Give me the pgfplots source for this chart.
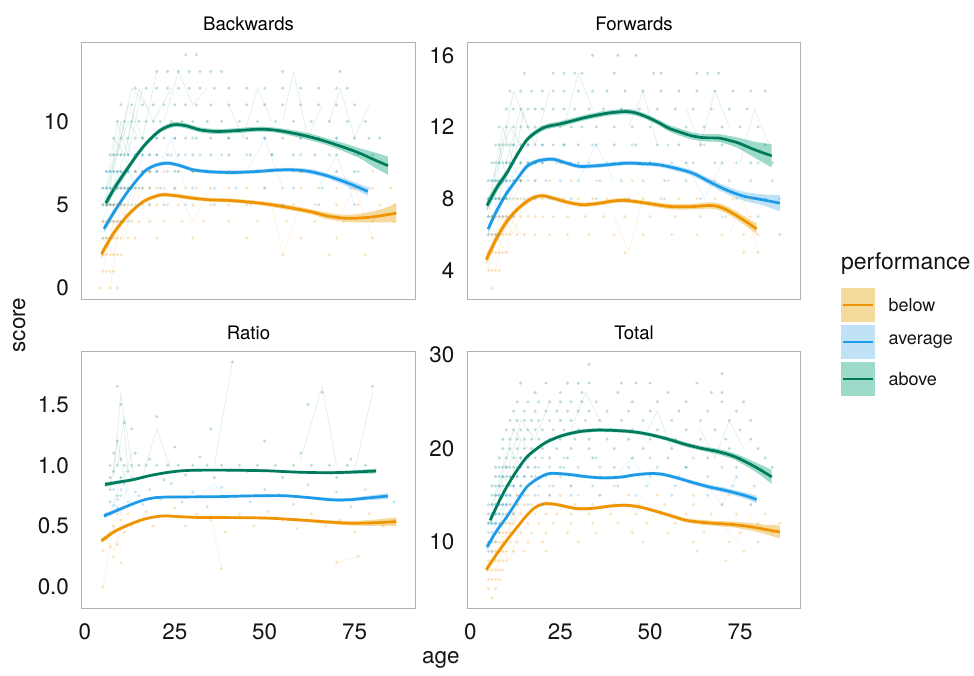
\documentclass[border=0pt]{standalone}
\usepackage{fontspec}
\setmainfont{TeX Gyre Heros}
\usepackage{pgfplots}
\pgfplotsset{compat=1.18}
\usepgfplotslibrary{fillbetween}
\usepackage{pgfplotstable}

\definecolor{orL}{HTML}{F09300}
\definecolor{orB}{HTML}{E69F00}
\definecolor{blL}{HTML}{1E9BE8}
\definecolor{blB}{HTML}{56B4E9}
\definecolor{grL}{HTML}{007A5C}
\definecolor{grB}{HTML}{009E73}

% ---------- Backwards ----------
\pgfplotstableread{
x y w
5.8 5.1 0.3
8.5 6.1 0.25
11.6 7.1 0.2
14.5 8.0 0.18
17.1 8.7 0.15
20.8 9.45 0.15
24.5 9.8 0.15
28 9.75 0.15
32 9.5 0.15
36.6 9.4 0.15
42 9.45 0.15
48.6 9.54 0.15
53 9.48 0.15
57.9 9.3 0.18
62.5 9.08 0.2
67.1 8.8 0.2
72 8.45 0.25
76.4 8.1 0.3
80.5 7.7 0.45
84.3 7.35 0.55
}\bwG
\pgfplotstableread{
x y w
5.3 3.56 0.25
8.5 4.7 0.2
11.6 5.7 0.15
14.5 6.5 0.12
17.1 7.1 0.12
20 7.4 0.12
23.1 7.5 0.12
26.5 7.35 0.12
30.1 7.1 0.12
35 6.98 0.12
41.2 6.94 0.12
48 7.0 0.12
53 7.08 0.12
57.9 7.1 0.12
62.5 7.0 0.15
67.1 6.76 0.15
72 6.4 0.2
75.5 6.1 0.22
78.7 5.8 0.25
}\bwB
\pgfplotstableread{
x y w
4.6 2.04 0.25
8 3.3 0.2
11.6 4.3 0.15
14.5 4.9 0.12
17.1 5.3 0.12
21.3 5.6 0.12
25 5.55 0.12
30 5.4 0.12
34.7 5.3 0.12
41 5.25 0.12
48.6 5.1 0.12
55 4.9 0.15
62.5 4.6 0.15
67 4.35 0.2
71.8 4.2 0.2
76 4.2 0.25
81 4.3 0.35
86.6 4.5 0.55
}\bwO

% ---------- Forwards ----------
\pgfplotstableread{
x y w
4.6 7.62 0.3
7.3 8.6 0.25
10.1 9.43 0.2
13 10.45 0.18
15.7 11.28 0.15
18.5 11.75 0.15
21.2 12.02 0.15
24.5 12.15 0.15
27.6 12.3 0.15
31 12.48 0.15
34.1 12.62 0.15
38.5 12.78 0.15
43.3 12.86 0.15
46 12.78 0.15
48.8 12.58 0.15
52 12.28 0.15
55.2 11.93 0.18
58.5 11.7 0.2
61.7 11.5 0.2
65 11.4 0.2
69.1 11.38 0.22
72 11.25 0.25
74.6 11.1 0.3
79.2 10.72 0.45
83.8 10.39 0.65
}\fwG
\pgfplotstableread{
x y w
4.9 6.3 0.25
7.5 7.4 0.2
10.1 8.31 0.18
13 9.1 0.15
15.7 9.8 0.15
19 10.12 0.12
23 10.2 0.12
26.5 10.0 0.12
30.4 9.8 0.12
36 9.85 0.12
43.3 9.98 0.12
48 9.95 0.12
52.5 9.89 0.12
57 9.7 0.15
61.7 9.43 0.15
65.5 9.05 0.18
69.1 8.68 0.2
72.5 8.38 0.22
76.4 8.12 0.25
81 7.95 0.3
86.1 7.75 0.45
}\fwB
\pgfplotstableread{
x y w
4.4 4.6 0.3
7.3 5.8 0.25
10.1 6.73 0.2
13 7.4 0.15
15.7 7.84 0.15
18 8.1 0.12
20.3 8.16 0.12
23.5 8.0 0.12
27 7.8 0.12
31.3 7.66 0.12
36 7.75 0.12
40 7.88 0.12
43.3 7.9 0.12
48 7.78 0.12
55.2 7.57 0.15
61 7.55 0.15
67.2 7.62 0.18
70.5 7.45 0.2
73.7 7.1 0.22
76.8 6.7 0.25
79.6 6.32 0.3
}\fwO

% ---------- Ratio ----------
\pgfplotstableread{
x y w
5.6 0.842 0.02
9 0.86 0.015
13.4 0.882 0.012
18 0.915 0.01
22.7 0.94 0.01
27 0.955 0.01
31.9 0.96 0.01
40 0.96 0.01
50.5 0.955 0.01
58 0.945 0.01
64.4 0.94 0.01
70 0.94 0.012
75 0.945 0.015
81 0.953 0.02
}\raG
\pgfplotstableread{
x y w
5.3 0.584 0.02
9 0.63 0.015
13.4 0.684 0.012
17 0.72 0.01
20.8 0.737 0.01
28 0.74 0.01
36.6 0.742 0.01
45 0.748 0.01
55.1 0.75 0.01
62 0.735 0.012
69 0.716 0.015
74 0.718 0.015
78.2 0.73 0.018
84.3 0.747 0.025
}\raB
\pgfplotstableread{
x y w
4.6 0.38 0.02
8.5 0.46 0.015
13.4 0.526 0.012
17.5 0.565 0.01
21.8 0.584 0.01
26 0.578 0.01
31.9 0.571 0.01
40 0.57 0.01
50.5 0.566 0.01
60 0.55 0.012
67 0.535 0.015
73.6 0.524 0.018
80 0.527 0.025
86.6 0.537 0.035
}\raO

% ---------- Total ----------
\pgfplotstableread{
x y w
5.5 12.33 0.4
7.8 14.2 0.3
10.1 15.9 0.25
13 17.7 0.22
15.7 19.1 0.2
18.5 20.0 0.2
21.2 20.7 0.2
24.5 21.25 0.2
27.6 21.6 0.2
31 21.85 0.2
35 21.97 0.2
39 21.95 0.2
43.3 21.86 0.2
47 21.7 0.2
50.6 21.43 0.2
55 21.0 0.22
59.9 20.43 0.25
64.5 20.0 0.25
69.1 19.65 0.3
73.7 19.1 0.35
79.2 18.04 0.5
83.8 16.97 0.75
}\toG
\pgfplotstableread{
x y w
4.6 9.46 0.35
7.3 11.2 0.28
10.1 12.68 0.22
13 14.4 0.2
15.7 15.9 0.18
18.8 16.8 0.18
22.1 17.33 0.18
27.6 17.22 0.18
32 17.0 0.18
36.8 16.86 0.18
42 16.95 0.18
46 17.2 0.18
50.6 17.33 0.18
54 17.2 0.2
58 16.8 0.2
62 16.35 0.22
66.3 15.9 0.25
70 15.6 0.28
73.7 15.25 0.3
77 14.9 0.35
79.6 14.54 0.4
}\toB
\pgfplotstableread{
x y w
4.4 7.04 0.35
7.3 8.7 0.28
10.1 10.18 0.22
13 11.6 0.2
15.7 12.86 0.18
18 13.7 0.18
20.7 14.1 0.18
24 14.0 0.18
29.5 13.58 0.18
34 13.6 0.18
39 13.85 0.18
43.3 13.93 0.18
47 13.75 0.18
50.6 13.4 0.18
55 12.9 0.2
59.9 12.33 0.22
64.5 12.1 0.25
69.1 11.97 0.28
73.5 11.85 0.32
78.3 11.61 0.4
82 11.35 0.5
86.1 11.07 0.7
}\toO

\newcommand{\smoothseries}[4]{%
  \addplot[name path=u#1, draw=none, smooth, forget plot] table[x=x, y expr=\thisrow{y}+\thisrow{w}] {#2};
  \addplot[name path=l#1, draw=none, smooth, forget plot] table[x=x, y expr=\thisrow{y}-\thisrow{w}] {#2};
  \addplot[fill=#4, fill opacity=0.38, draw=none, forget plot] fill between[of=u#1 and l#1];
  \addplot[draw=#3, line width=1.35pt, smooth, forget plot] table[x=x, y=y] {#2};
}
\newcommand{\pts}[2]{\addplot[color=#1, only marks, mark=*, mark size=0.85pt, mark options={draw opacity=0, fill=#1, fill opacity=0.26}, forget plot] coordinates {#2};}
\newcommand{\trace}[2]{\addplot[color=#1, draw opacity=0.1, line width=0.45pt, mark=none, forget plot] coordinates {#2};}

\pgfplotsset{
  facet/.style={
    scale only axis, width=166.8pt, height=128.2pt,
    xmin=-0.9, xmax=91.9, anchor=north west,
    axis line style={draw=black!30, line width=0.5pt},
    tick style={draw=none}, major tick length=0pt, minor tick length=0pt,
    xtick={0,25,50,75},
    ticklabel style={font=\fontsize{11.2}{13}\selectfont, text=black!92},
    yticklabel style={inner sep=0pt, xshift=-6.2pt},
    xticklabel style={inner sep=0pt, yshift=-7.6pt},
    /pgf/number format/assume math mode=true,
    every axis title shift=0pt,
    title style={font=\fontsize{9.3}{11}\selectfont, at={(0.5,1)}, anchor=base, yshift=6.2pt, inner sep=0pt},
  },
}

\begin{document}
\begin{tikzpicture}

% ================= Backwards =================
\begin{axis}[facet, at={(40.85pt,-21.35pt)}, title={Backwards},
  ymin=-0.66, ymax=14.73, ytick={0,5,10}, xticklabels={}]
  % individual traces
  \trace{grL}{(6,6)(9,8)(12,10)(15,9)}
  \trace{grL}{(7,7)(10,9)(13,12)(17,11)}
  \trace{grL}{(9,8)(12,11)(16,9)(20,13)}
  \trace{grL}{(12,9)(15,12)(19,10)(24,12)}
  \trace{grL}{(5,5)(8,7)(10,10)(13,8)}
  \trace{grL}{(6,6)(8,9)(11,8)(14,11)}
  \trace{grL}{(7,6)(9,10)(12,8)(16,12)}
  \trace{grL}{(22,10)(26,13)(30,11)(34,12)}
  \trace{grL}{(40,11)(44,9)(48,12)(52,10)}
  \trace{grL}{(55,10)(58,13)(62,9)(66,11)}
  \trace{grL}{(68,10)(71,12)(75,9)(79,11)}
  \trace{blL}{(5,4)(8,6)(11,8)(14,6)}
  \trace{blL}{(6,5)(9,7)(12,5)(16,8)}
  \trace{blL}{(7,4)(9,6)(12,7)(15,6)}
  \trace{blL}{(20,7)(24,9)(28,6)}
  \trace{blL}{(45,7)(50,9)(55,6)}
  \trace{blL}{(65,6)(70,8)(75,5)}
  \trace{orL}{(5,1)(8,4)(11,3)(14,6)}
  \trace{orL}{(6,2)(9,5)(12,4)(16,6)}
  \trace{orL}{(7,0)(9,3)(12,5)}
  \trace{orL}{(5,3)(8,2)(10,5)(13,4)}
  \trace{orL}{(25,6)(30,4)(35,6)}
  \trace{orL}{(52,5)(55,2)(60,5)}
  \trace{orL}{(70,4)(75,6)(80,3)}
  % points
  \pts{grL}{(28,14)(31,14)(20,13)(23,13)(26,13)(29,13)(32,13)(35,13)(38,13)(55,13)(71,13)
    (14,12)(17,12)(20,12)(23,12)(26,12)(29,12)(32,12)(36,12)(40,12)(45,12)(50,12)(55,12)(60,12)(65,12)(70,12)(73,12)
    (10,11)(13,11)(16,11)(19,11)(22,11)(25,11)(28,11)(31,11)(35,11)(40,11)(45,11)(50,11)(55,11)(60,11)(65,11)(70,11)(75,11)
    (9,10)(11,10)(13,10)(15,10)(17,10)(19,10)(21,10)(24,10)(27,10)(30,10)(34,10)(38,10)(43,10)(48,10)(53,10)(58,10)(63,10)(68,10)(73,10)(78,10)
    (8,9)(10,9)(12,9)(14,9)(16,9)(18,9)(20,9)(22,9)(25,9)(28,9)(31,9)(35,9)(40,9)(45,9)(50,9)(55,9)(60,9)(65,9)(70,9)(75,9)(79,9)(82,9)
    (7,8)(8,8)(9,8)(10,8)(11,8)(12,8)(14,8)(16,8)(18,8)(20,8)(23,8)(26,8)(30,8)(35,8)(40,8)(46,8)(52,8)(58,8)(64,8)(70,8)(76,8)(80,8)
    (6,7)(7,7)(8,7)(9,7)(10,7)(11,7)(12,7)(14,7)(16,7)(18,7)(20,7)(25,7)(30,7)(60,7)(75,7)
    (5,6)(6,6)(7,6)(8,6)(9,6)(10,6)(11,6)(12,6)(13,6)(15,6)(5,5)(6,5)(7,5)(8,5)}
  \pts{blL}{(16,9)(20,9)(25,9)(30,9)(40,9)(50,9)(60,9)(70,9)
    (8,8)(10,8)(12,8)(14,8)(16,8)(18,8)(20,8)(24,8)(28,8)(32,8)(38,8)(45,8)(52,8)(60,8)(68,8)(75,8)
    (6,7)(7,7)(8,7)(9,7)(10,7)(12,7)(14,7)(16,7)(18,7)(20,7)(23,7)(26,7)(30,7)(35,7)(40,7)(46,7)(52,7)(58,7)(64,7)(70,7)(76,7)
    (5,6)(6,6)(7,6)(8,6)(9,6)(10,6)(11,6)(12,6)(14,6)(16,6)(18,6)(21,6)(25,6)(30,6)(36,6)(42,6)(50,6)(58,6)(66,6)(74,6)(79,6)
    (5,5)(6,5)(7,5)(8,5)(9,5)(10,5)(11,5)(13,5)(15,5)(18,5)(22,5)(28,5)(36,5)(45,5)(55,5)(65,5)(75,5)
    (5,4)(6,4)(7,4)(8,4)(9,4)(10,4)(12,4)(5,3)(6,3)(7,3)}
  \pts{orL}{(14,7)(18,7)(22,7)(26,7)(30,7)(40,7)(50,7)(60,7)(70,7)(80,7)
    (8,6)(10,6)(12,6)(14,6)(16,6)(18,6)(20,6)(22,6)(25,6)(28,6)(31,6)(35,6)(40,6)(45,6)(50,6)(55,6)(60,6)(65,6)(70,6)(75,6)(80,6)(85,6)
    (6,5)(7,5)(8,5)(9,5)(10,5)(11,5)(12,5)(14,5)(16,5)(18,5)(20,5)(23,5)(26,5)(30,5)(35,5)(40,5)(46,5)(52,5)(58,5)(64,5)(70,5)(76,5)(82,5)(86,5)
    (5,4)(6,4)(7,4)(8,4)(9,4)(10,4)(11,4)(13,4)(15,4)(18,4)(22,4)(27,4)(33,4)(40,4)(48,4)(56,4)(64,4)(72,4)(80,4)(86,4)
    (5,3)(6,3)(7,3)(8,3)(9,3)(10,3)(12,3)(14,3)(20,3)(30,3)(45,3)(60,3)(70,3)(80,3)
    (5,2)(6,2)(7,2)(8,2)(9,2)(10,2)(55,2)(68,2)(78,2)(5,1)(6,1)(7,1)(8,1)(4,0)(7,0)(9,0)}
  % smooths
  \smoothseries{bo}{\bwO}{orL}{orB}
  \smoothseries{bb}{\bwB}{blL}{blB}
  \smoothseries{bg}{\bwG}{grL}{grB}
\end{axis}

% ================= Forwards =================
\begin{axis}[facet, at={(233.6pt,-21.35pt)}, title={Forwards},
  ymin=2.4, ymax=16.7, ytick={4,8,12,16}, xticklabels={}]
  \trace{grL}{(5,8)(8,10)(11,12)(14,11)}
  \trace{grL}{(6,9)(9,11)(12,14)(16,12)}
  \trace{grL}{(7,8)(9,12)(12,10)(15,13)}
  \trace{grL}{(5,7)(8,11)(10,9)(13,12)}
  \trace{grL}{(10,10)(14,13)(18,11)(22,14)}
  \trace{grL}{(26,12)(30,15)(34,13)}
  \trace{grL}{(44,12)(48,14)(52,11)}
  \trace{grL}{(60,13)(64,11)(68,14)(72,12)}
  \trace{grL}{(75,10)(79,13)(83,11)}
  \trace{blL}{(5,6)(8,8)(11,10)(14,9)}
  \trace{blL}{(6,7)(9,9)(12,8)(16,10)}
  \trace{blL}{(7,6)(9,8)(11,9)(14,10)}
  \trace{blL}{(30,9)(35,11)(40,9)}
  \trace{blL}{(60,10)(65,8)(70,10)}
  \trace{orL}{(5,4)(7,6)(10,5)(13,8)}
  \trace{orL}{(6,5)(9,7)(12,6)(15,8)}
  \trace{orL}{(7,4)(9,6)(11,7)(14,6)}
  \trace{orL}{(40,7)(44,5)(48,8)}
  \trace{orL}{(72,6)(76,8)(80,5)}
  \pts{grL}{(34,16)(41,16)(46,16)
    (15,15)(23,15)(26,15)(29,15)(31,15)(40,15)(51,15)(53,15)(63,15)(66,15)(69,15)
    (11,14)(14,14)(17,14)(20,14)(23,14)(26,14)(30,14)(34,14)(38,14)(43,14)(48,14)(53,14)(58,14)(63,14)(68,14)(73,14)(78,14)(82,14)
    (10,13)(12,13)(14,13)(16,13)(18,13)(20,13)(23,13)(26,13)(29,13)(33,13)(37,13)(42,13)(47,13)(52,13)(57,13)(62,13)(67,13)(72,13)(77,13)
    (8,12)(10,12)(12,12)(14,12)(16,12)(18,12)(20,12)(22,12)(25,12)(28,12)(31,12)(35,12)(40,12)(45,12)(50,12)(55,12)(60,12)(65,12)(70,12)(75,12)(80,12)
    (7,11)(8,11)(9,11)(10,11)(11,11)(12,11)(14,11)(16,11)(18,11)(20,11)(23,11)(26,11)(30,11)(35,11)(40,11)(46,11)(52,11)(58,11)(64,11)(70,11)(76,11)(82,11)
    (6,10)(7,10)(8,10)(9,10)(10,10)(11,10)(12,10)(14,10)(16,10)(18,10)(20,10)(25,10)(30,10)(40,10)(50,10)(60,10)(70,10)(78,10)(84,10)
    (5,9)(6,9)(7,9)(8,9)(9,9)(10,9)(11,9)(12,9)(14,9)(5,8)(6,8)(7,8)(8,8)(9,8)(10,8)(5,7)(6,7)}
  \pts{blL}{(12,11)(16,11)(20,11)(26,11)(34,11)(45,11)(55,11)(65,11)
    (8,10)(10,10)(12,10)(14,10)(16,10)(18,10)(20,10)(24,10)(28,10)(33,10)(38,10)(44,10)(50,10)(56,10)(62,10)(68,10)(74,10)(80,10)
    (6,9)(7,9)(8,9)(9,9)(10,9)(12,9)(14,9)(16,9)(18,9)(21,9)(25,9)(30,9)(36,9)(42,9)(48,9)(54,9)(60,9)(66,9)(72,9)(78,9)(84,9)
    (5,8)(6,8)(7,8)(8,8)(9,8)(10,8)(11,8)(13,8)(15,8)(18,8)(22,8)(28,8)(35,8)(44,8)(54,8)(64,8)(74,8)(82,8)(86,8)
    (5,7)(6,7)(7,7)(8,7)(9,7)(10,7)(12,7)(70,7)(80,7)(5,6)(6,6)(7,6)(8,6)(86,6)}
  \pts{orL}{(14,9)(18,9)(22,9)(28,9)(35,9)(45,9)(55,9)(68,9)
    (8,8)(10,8)(12,8)(14,8)(16,8)(18,8)(20,8)(23,8)(26,8)(30,8)(34,8)(38,8)(43,8)(48,8)(53,8)(58,8)(63,8)(68,8)(73,8)(78,8)
    (6,7)(7,7)(8,7)(9,7)(10,7)(11,7)(12,7)(14,7)(16,7)(18,7)(20,7)(23,7)(27,7)(32,7)(37,7)(43,7)(50,7)(57,7)(64,7)(71,7)(78,7)
    (5,6)(6,6)(7,6)(8,6)(9,6)(10,6)(11,6)(13,6)(15,6)(18,6)(22,6)(27,6)(33,6)(40,6)(48,6)(56,6)(63,6)(70,6)(76,6)(80,6)
    (5,5)(6,5)(7,5)(8,5)(9,5)(10,5)(43,5)(76,5)(80,5)(5,4)(6,4)(7,4)(8,4)(6,3)}
  \smoothseries{fo}{\fwO}{orL}{orB}
  \smoothseries{fb}{\fwB}{blL}{blB}
  \smoothseries{fg}{\fwG}{grL}{grB}
\end{axis}

% ================= Ratio =================
\begin{axis}[facet, at={(40.85pt,-175.85pt)}, title={Ratio},
  ymin=-0.174, ymax=1.934, ytick={0,0.5,1,1.5}, yticklabels={0.0,0.5,1.0,1.5}]
  \trace{grL}{(8,0.9)(10,1.6)(12,0.95)}
  \trace{grL}{(9,1.0)(11,1.4)(14,0.85)}
  \trace{grL}{(7,0.8)(9,1.2)(11,0.9)(13,1.1)}
  \trace{grL}{(36,1.0)(41,1.85)}
  \trace{grL}{(60,1.05)(66,1.65)(70,1.0)}
  \trace{grL}{(75,0.95)(80,1.6)}
  \trace{grL}{(16,0.9)(20,1.3)(24,0.95)}
  \trace{blL}{(7,0.6)(10,0.9)(13,0.7)}
  \trace{blL}{(8,0.7)(10,0.6)(12,0.85)}
  \trace{blL}{(30,0.7)(36,0.85)(40,0.7)}
  \trace{orL}{(5,0.0)(8,0.5)(10,0.3)}
  \trace{orL}{(6,0.4)(8,0.3)(11,0.55)}
  \trace{orL}{(35,0.6)(38,0.15)}
  \trace{orL}{(70,0.2)(76,0.25)}
  \pts{grL}{(7,1)(9,1)(11,1)(13,1)(15,1)(17,1)(20,1)(23,1)(26,1)(30,1)(34,1)(38,1)(43,1)(48,1)(53,1)(58,1)(63,1)(68,1)(73,1)(78,1)
    (8,1.1)(9,1.2)(10,0.9)(11,1.35)(8,0.85)(7,0.8)(9,0.75)(12,0.95)(14,1.1)(16,0.9)(18,1.05)(22,0.88)(25,1.15)(28,0.92)(32,1.07)(36,0.9)
    (41,1.85)(45,0.95)(50,1.2)(55,0.9)(60,1.1)(66,1.6)(70,0.9)(74,1.05)(80,1.65)(9,1.65)(10,1.5)(13,1.3)(20,1.4)(35,1.3)(62,1.5)(8,0.95)(10,1.05)(6,0.85)(7,0.9)}
  \pts{blL}{(6,0.6)(7,0.7)(8,0.8)(9,0.65)(10,0.75)(11,0.85)(12,0.7)(14,0.78)(16,0.68)(18,0.8)(21,0.72)(24,0.85)(27,0.7)(30,0.78)(34,0.66)(38,0.82)
    (42,0.74)(46,0.7)(50,0.8)(54,0.76)(58,0.68)(62,0.84)(66,0.72)(70,0.78)(74,0.66)(78,0.8)(82,0.74)(86,0.7)(7,0.6)(8,0.67)(9,0.72)(10,0.8)(13,0.9)(15,0.75)}
  \pts{orL}{(5,0.3)(6,0.4)(7,0.45)(8,0.5)(9,0.35)(10,0.55)(11,0.45)(12,0.6)(13,0.5)(15,0.55)(17,0.62)(19,0.5)(22,0.58)(25,0.65)(28,0.5)(31,0.6)
    (35,0.55)(39,0.45)(43,0.6)(47,0.5)(51,0.62)(55,0.55)(59,0.48)(63,0.6)(67,0.5)(71,0.55)(75,0.45)(79,0.6)(83,0.5)(86,0.55)
    (5,0.0)(8,0.25)(10,0.2)(7,0.33)(70,0.2)(76,0.25)(38,0.15)(9,0.6)(11,0.65)}
  \smoothseries{ro}{\raO}{orL}{orB}
  \smoothseries{rb}{\raB}{blL}{blB}
  \smoothseries{rg}{\raG}{grL}{grB}
\end{axis}

% ================= Total =================
\begin{axis}[facet, at={(233.6pt,-175.85pt)}, title={Total},
  ymin=2.93, ymax=30.36, ytick={10,20,30}]
  \trace{grL}{(5,12)(8,16)(11,20)(14,18)}
  \trace{grL}{(6,14)(9,18)(12,22)(16,20)}
  \trace{grL}{(7,13)(9,17)(11,16)(14,21)}
  \trace{grL}{(10,17)(14,23)(18,21)(22,25)}
  \trace{grL}{(28,22)(32,26)(36,23)}
  \trace{grL}{(48,21)(52,24)(56,20)}
  \trace{grL}{(64,22)(68,19)(72,23)(76,20)}
  \trace{blL}{(5,9)(8,12)(11,15)(14,14)}
  \trace{blL}{(6,11)(9,14)(12,13)(16,16)}
  \trace{blL}{(7,10)(9,13)(11,12)(13,15)}
  \trace{blL}{(40,17)(45,19)(50,16)}
  \trace{blL}{(66,16)(70,14)(74,17)}
  \trace{orL}{(5,6)(7,9)(10,11)(13,13)}
  \trace{orL}{(6,8)(9,10)(12,12)(15,14)}
  \trace{orL}{(7,7)(9,9)(11,8)(14,12)}
  \trace{orL}{(44,13)(48,15)(52,12)}
  \trace{orL}{(70,12)(74,10)(78,13)}
  \pts{grL}{(33,29)(70,28)(14,27)(21,27)(27,27)(30,27)(33,27)(42,27)(46,27)(50,27)(63,27)
    (18,26)(25,26)(31,26)(41,26)(55,26)(67,26)(70,26)
    (13,25)(16,25)(19,25)(22,25)(25,25)(28,25)(31,25)(35,25)(45,25)(52,25)(60,25)(70,25)(76,25)
    (12,24)(15,24)(18,24)(21,24)(24,24)(27,24)(30,24)(33,24)(38,24)(44,24)(50,24)(58,24)(66,24)(74,24)
    (11,23)(13,23)(15,23)(17,23)(19,23)(22,23)(25,23)(28,23)(32,23)(36,23)(42,23)(48,23)(56,23)(64,23)(72,23)(78,23)
    (10,22)(12,22)(14,22)(16,22)(18,22)(20,22)(23,22)(26,22)(30,22)(34,22)(39,22)(45,22)(52,22)(60,22)(68,22)(75,22)
    (9,21)(11,21)(13,21)(15,21)(17,21)(19,21)(22,21)(25,21)(29,21)(33,21)(38,21)(44,21)(50,21)(57,21)(64,21)(71,21)(78,21)
    (9,20)(11,20)(13,20)(15,20)(17,20)(20,20)(24,20)(28,20)(33,20)(40,20)(48,20)(56,20)(64,20)(72,20)(80,20)
    (8,19)(10,19)(12,19)(14,19)(16,19)(18,19)(22,19)(27,19)(34,19)(45,19)(55,19)(66,19)(75,19)(82,19)
    (7,18)(8,18)(9,18)(10,18)(11,18)(12,18)(14,18)(16,18)(18,18)(25,18)(40,18)(60,18)(74,18)(84,18)
    (7,17)(8,17)(9,17)(10,17)(11,17)(12,17)(13,17)(15,17)(17,17)
    (6,16)(7,16)(8,16)(9,16)(10,16)(11,16)(12,16)(14,16)
    (6,15)(7,15)(8,15)(9,15)(10,15)(11,15)(5,14)(6,14)(7,14)(8,14)(9,14)(10,14)
    (5,13)(6,13)(7,13)(8,13)(5,12)(6,12)(7,12)}
  \pts{blL}{(14,19)(20,19)(26,19)(35,19)(50,19)(62,19)
    (10,18)(13,18)(16,18)(19,18)(22,18)(26,18)(30,18)(36,18)(44,18)(52,18)(60,18)(70,18)
    (9,17)(11,17)(13,17)(15,17)(18,17)(21,17)(25,17)(30,17)(36,17)(43,17)(50,17)(58,17)(66,17)(74,17)
    (8,16)(10,16)(12,16)(14,16)(16,16)(19,16)(23,16)(28,16)(34,16)(41,16)(49,16)(57,16)(65,16)(73,16)(79,16)
    (7,15)(8,15)(9,15)(10,15)(11,15)(13,15)(15,15)(18,15)(22,15)(28,15)(36,15)(46,15)(56,15)(66,15)(76,15)
    (6,14)(7,14)(8,14)(9,14)(10,14)(11,14)(13,14)(16,14)(20,14)(70,14)(78,14)
    (6,13)(7,13)(8,13)(9,13)(10,13)(12,13)(5,12)(6,12)(7,12)(8,12)(9,12)
    (5,11)(6,11)(7,11)(8,11)(5,10)(6,10)(7,10)(5,9)(6,9)}
  \pts{orL}{(16,16)(22,16)(28,16)(40,16)
    (13,15)(16,15)(19,15)(22,15)(25,15)(30,15)(36,15)(44,15)(52,15)(62,15)(72,15)
    (11,14)(13,14)(15,14)(17,14)(19,14)(22,14)(25,14)(29,14)(34,14)(40,14)(47,14)(54,14)(62,14)(70,14)(78,14)
    (10,13)(12,13)(14,13)(16,13)(18,13)(21,13)(24,13)(28,13)(33,13)(39,13)(46,13)(53,13)(60,13)(67,13)(74,13)(82,13)
    (9,12)(10,12)(11,12)(12,12)(14,12)(16,12)(19,12)(23,12)(28,12)(34,12)(41,12)(49,12)(57,12)(65,12)(73,12)(80,12)(86,12)
    (8,11)(9,11)(10,11)(11,11)(12,11)(14,11)(17,11)(21,11)(27,11)(35,11)(45,11)(55,11)(65,11)(75,11)(84,11)
    (7,10)(8,10)(9,10)(10,10)(11,10)(13,10)(16,10)(20,10)(30,10)(48,10)(62,10)(72,10)(80,10)
    (6,9)(7,9)(8,9)(9,9)(10,9)(12,9)(15,9)(21,9)(63,9)(76,9)
    (5,8)(6,8)(7,8)(8,8)(9,8)(10,8)(71,8)(5,7)(6,7)(7,7)(8,7)(9,7)
    (5,6)(6,6)(7,6)(8,6)(5,5)(7,5)(6,4)}
  \smoothseries{to}{\toO}{orL}{orB}
  \smoothseries{tb}{\toB}{blL}{blB}
  \smoothseries{tg}{\toG}{grL}{grB}
\end{axis}

% axis titles
\node[rotate=90, font=\fontsize{11.2}{13}\selectfont, text=black!92] at (9.6pt,-162.5pt) {score};
\node[anchor=base, font=\fontsize{11.2}{13}\selectfont, text=black!92] at (220.4pt,-331.8pt) {age};

% legend
\node[anchor=base west, inner sep=0pt, font=\fontsize{11.5}{13}\selectfont, text=black!92] at (420.3pt,-135pt) {performance};
\fill[orB, opacity=0.38] (420.3pt,-144.2pt) rectangle (437.5pt,-160.8pt);
\draw[orL, line width=1.1pt] (421.3pt,-152.5pt) -- (436.5pt,-152.5pt);
\fill[blB, opacity=0.38] (420.3pt,-162.6pt) rectangle (437.5pt,-179.3pt);
\draw[blL, line width=1.1pt] (421.3pt,-171pt) -- (436.5pt,-171pt);
\fill[grB, opacity=0.38] (420.3pt,-181.1pt) rectangle (437.5pt,-197.9pt);
\draw[grL, line width=1.1pt] (421.3pt,-189.5pt) -- (436.5pt,-189.5pt);
\node[anchor=west, inner sep=0pt, font=\fontsize{9}{11}\selectfont, text=black!92] at (444.1pt,-152.5pt) {below};
\node[anchor=west, inner sep=0pt, font=\fontsize{9}{11}\selectfont, text=black!92] at (444.1pt,-171pt) {average};
\node[anchor=west, inner sep=0pt, font=\fontsize{9}{11}\selectfont, text=black!92] at (444.1pt,-189.5pt) {above};

% page frame
\path (0pt,0pt) rectangle (487pt,-335pt);
\end{tikzpicture}
\end{document}
